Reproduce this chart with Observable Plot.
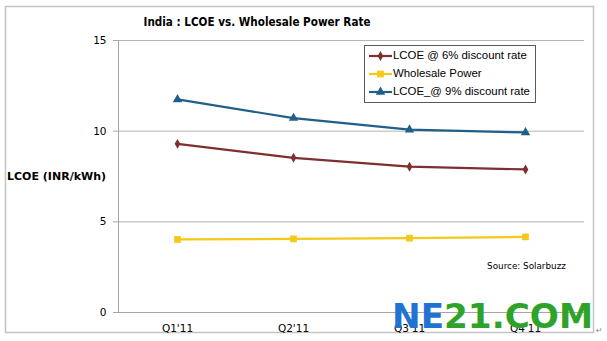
<!DOCTYPE html>
<html>
<head>
<meta charset="utf-8">
<script src="https://cdn.jsdelivr.net/npm/d3@7"></script>
<script src="https://cdn.jsdelivr.net/npm/@observablehq/plot@0.6"></script>
<style>
  html, body { margin: 0; padding: 0; background: #fff; }
</style>
</head>
<body>
<div id="chart"></div>
<script>
const quarters = ["Q1'11", "Q2'11", "Q3'11", "Q4'11"];
const lcoe6 = [9.30, 8.53, 8.04, 7.89];
const wholesale = [4.03, 4.06, 4.10, 4.17];
const lcoe9 = [11.75, 10.72, 10.08, 9.93];
const yTicks = [0, 5, 10, 15];
const seriesNames = ["LCOE @ 6% discount rate", "Wholesale Power", "LCOE_@ 9% discount rate"];
const seriesValues = [lcoe6, wholesale, lcoe9];
const seriesColors = ["#7e2f2f", "#f5c81c", "#215f8b"];
const seriesSymbols = ["diamond", "square", "triangle"];
const seriesR = [3, 3.8, 3.5];
const titleText = "India : LCOE vs. Wholesale Power Rate";
const yLabelText = "LCOE (INR/kWh)";
const sourceText = "Source: Solarbuzz";

const tables = seriesValues.map((vals, i) =>
  quarters.map((q, j) => ({ q, v: vals[j], s: seriesNames[i] }))
);

const lineMarks = [];
tables.forEach((t, i) => {
  lineMarks.push(Plot.line(t, { x: "q", y: "v", stroke: seriesColors[i], strokeWidth: 2.2 }));
  lineMarks.push(Plot.dot(t, { x: "q", y: "v", fill: seriesColors[i], stroke: "none", symbol: seriesSymbols[i], r: seriesR[i] }));
});

const chart = Plot.plot({
  width: 607,
  height: 341,
  marginLeft: 118,
  marginRight: 23,
  marginTop: 40,
  marginBottom: 29,
  style: { fontFamily: "DejaVu Sans", fontSize: "10.5px", color: "#000", background: "#fff" },
  x: { type: "point", domain: quarters, padding: 0.5 },
  y: { domain: [0, 15] },
  marks: [
    Plot.gridY([5, 10, 15], { stroke: "#b4b4b4", strokeOpacity: 1 }),
    Plot.ruleY([0], { stroke: "#a6a6a6" }),
    Plot.frame({ anchor: "left", stroke: "#a6a6a6" }),
    Plot.axisY(yTicks, { tickSize: 5, tickPadding: 7, label: null, stroke: "#a6a6a6", fill: "#000" }),
    Plot.axisX({ tickSize: 0, tickPadding: 12, label: null, fill: "#000" }),
    ...lineMarks
  ]
});

document.getElementById("chart").appendChild(chart);

const svg = d3.select(chart);

// outer frame
svg.insert("rect", ":first-child")
  .attr("x", 5.5).attr("y", 6.5).attr("width", 588).attr("height", 326)
  .attr("fill", "none").attr("stroke", "#c4c4c4").attr("stroke-width", 1.5);

// title
svg.append("text")
  .attr("x", 257).attr("y", 22)
  .attr("text-anchor", "middle").attr("dominant-baseline", "middle")
  .attr("font-family", "DejaVu Sans").attr("font-weight", "bold").attr("font-size", 12.5)
  .attr("textLength", 227).attr("lengthAdjust", "spacingAndGlyphs")
  .attr("fill", "#000")
  .text(titleText);

// y label
svg.append("text")
  .attr("x", 7).attr("y", 177)
  .attr("text-anchor", "start").attr("dominant-baseline", "middle")
  .attr("font-family", "DejaVu Sans").attr("font-weight", "bold").attr("font-size", 10.5)
  .attr("textLength", 99).attr("lengthAdjust", "spacingAndGlyphs")
  .attr("fill", "#000")
  .text(yLabelText);

// legend
const lg = svg.append("g");
lg.append("rect")
  .attr("x", 364.5).attr("y", 45.5).attr("width", 171).attr("height", 57)
  .attr("fill", "#fff").attr("stroke", "#5a5a5a").attr("stroke-width", 1);
seriesNames.forEach((name, i) => {
  const cy = 56 + i * 18;
  lg.append("line")
    .attr("x1", 369).attr("x2", 392).attr("y1", cy).attr("y2", cy)
    .attr("stroke", seriesColors[i]).attr("stroke-width", 2.2);
  const sym = { diamond: d3.symbolDiamond, square: d3.symbolSquare, triangle: d3.symbolTriangle }[seriesSymbols[i]];
  lg.append("path")
    .attr("transform", `translate(380.5,${cy})`)
    .attr("d", d3.symbol(sym, seriesR[i] * seriesR[i] * Math.PI)())
    .attr("fill", seriesColors[i]);
  lg.append("text")
    .attr("x", 393).attr("y", cy)
    .attr("text-anchor", "start").attr("dominant-baseline", "middle")
    .attr("font-family", "Liberation Sans").attr("font-size", 11.4)
    .attr("fill", "#000")
    .text(name);
});

// source
svg.append("text")
  .attr("x", 526.5).attr("y", 266)
  .attr("text-anchor", "middle").attr("dominant-baseline", "middle")
  .attr("font-family", "DejaVu Sans").attr("font-size", 8.8)
  .attr("fill", "#000")
  .text(sourceText);

// watermark
const wm = svg.append("text")
  .attr("x", 392).attr("y", 327.5)
  .attr("text-anchor", "start")
  .attr("font-family", "DejaVu Sans").attr("font-weight", "bold").attr("font-size", 34)
  .attr("textLength", 201).attr("lengthAdjust", "spacingAndGlyphs");
wm.append("tspan").attr("fill", "#1f73d2").text("NE");
wm.append("tspan").attr("fill", "#2ea32a").text("21.COM");

// paragraph mark
svg.append("text")
  .attr("x", 596).attr("y", 333)
  .attr("text-anchor", "start")
  .attr("font-family", "DejaVu Sans").attr("font-size", 8)
  .attr("fill", "#888")
  .text("↵");
</script>
</body>
</html>
